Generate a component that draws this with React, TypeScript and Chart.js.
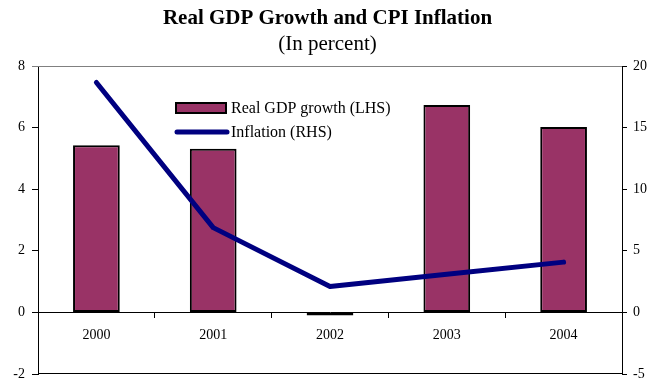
import React, { useEffect, useRef } from "react";
import { Chart, registerables } from "chart.js";

Chart.register(...registerables);

const categories = ["2000", "2001", "2002", "2003", "2004"];
const gdpGrowth = [5.43, 5.31, -0.1, 6.73, 6.02];
const inflation = [18.66, 6.88, 2.1, 3.1, 4.08];
const leftTicks = [-2, 0, 2, 4, 6, 8];
const rightTicks = [-5, 0, 5, 10, 15, 20];

const FONT = "'Liberation Serif', 'Times New Roman', serif";
const BAR_COLOR = "#993366";
const LINE_COLOR = "#000080";

const framePlugin = {
  id: "frame",
  beforeDatasetsDraw(chart: any) {
    const { ctx, chartArea: a } = chart;
    ctx.save();
    ctx.lineWidth = 1;
    ctx.strokeStyle = "#808080";
    ctx.beginPath();
    ctx.moveTo(a.left - 6, Math.round(a.top) + 0.5);
    ctx.lineTo(a.right, Math.round(a.top) + 0.5);
    ctx.stroke();
    ctx.strokeStyle = "#000";
    ctx.beginPath();
    ctx.moveTo(a.left, Math.round(a.bottom) - 0.5);
    ctx.lineTo(a.right, Math.round(a.bottom) - 0.5);
    ctx.stroke();
    ctx.restore();
  },
  afterDraw(chart: any) {
    const { ctx, chartArea: a } = chart;
    const ds = chart.data.datasets;
    const bar = ds.find((d: any) => d.type === "bar");
    const line = ds.find((d: any) => d.type === "line");
    const x0 = a.left + 138;
    const y1 = a.top + 42;
    const y2 = a.top + 66;
    ctx.save();
    ctx.fillStyle = bar.backgroundColor;
    ctx.strokeStyle = "#000";
    ctx.lineWidth = 2;
    ctx.fillRect(x0, y1 - 5, 50, 10);
    ctx.strokeRect(x0, y1 - 5, 50, 10);
    ctx.strokeStyle = line.borderColor;
    ctx.lineWidth = 5;
    ctx.lineCap = "round";
    ctx.beginPath();
    ctx.moveTo(x0 + 1, y2);
    ctx.lineTo(x0 + 51, y2);
    ctx.stroke();
    ctx.fillStyle = "#000";
    ctx.font = `16px ${FONT}`;
    ctx.textBaseline = "middle";
    ctx.textAlign = "left";
    ctx.fillText(bar.label, x0 + 55, y1 + 1);
    ctx.fillText(line.label, x0 + 55, y2 + 1);
    ctx.restore();
  },
};

function fixWidth(w: number) {
  return (scale: any) => {
    scale.width = w;
    scale.paddingTop = 0;
    scale.paddingBottom = 0;
  };
}

export default function App() {
  const ref = useRef<HTMLCanvasElement | null>(null);

  useEffect(() => {
    if (!ref.current) return;
    Chart.defaults.color = "#000";
    const chart = new Chart(ref.current, {
      type: "bar",
      data: {
        labels: categories,
        datasets: [
          {
            type: "line",
            label: "Inflation (RHS)",
            data: inflation,
            yAxisID: "y2",
            borderColor: LINE_COLOR,
            backgroundColor: LINE_COLOR,
            borderWidth: 5,
            pointRadius: 0,
            borderCapStyle: "round",
            borderJoinStyle: "round",
            tension: 0,
            order: 0,
          } as any,
          {
            type: "bar",
            label: "Real GDP growth (LHS)",
            data: gdpGrowth,
            yAxisID: "y",
            backgroundColor: BAR_COLOR,
            borderColor: "#000",
            borderWidth: 2,
            borderSkipped: false,
            categoryPercentage: 0.8,
            barPercentage: 0.5,
            order: 1,
          } as any,
        ],
      },
      options: {
        responsive: false,
        animation: false,
        devicePixelRatio: 1,
        layout: { padding: { top: 0, left: 0, right: 7, bottom: 9 } },
        plugins: {
          legend: { display: false },
          tooltip: { enabled: false },
          title: {
            display: true,
            text: "Real GDP Growth and CPI Inflation",
            color: "#000",
            font: { family: FONT, size: 21, weight: "bold", lineHeight: 1.2 },
            padding: { top: 6, bottom: 1 },
          },
          subtitle: {
            display: true,
            text: "(In percent)",
            color: "#000",
            font: { family: FONT, size: 21, weight: "normal", lineHeight: 1.2 },
            padding: { top: 0, bottom: 8.6 },
          },
        },
        scales: {
          x: {
            type: "category",
            position: { y: 0 } as any,
            offset: true,
            grid: {
              display: true,
              offset: true,
              drawOnChartArea: false,
              drawTicks: true,
              tickLength: 5,
              color: "#000",
            },
            border: { display: true, color: "#000", width: 1 },
            ticks: {
              font: { family: FONT, size: 14 },
              color: "#000",
              padding: 10,
              maxRotation: 0,
            },
            afterFit(scale: any) {
              scale.height = 0;
              scale.paddingLeft = 0;
              scale.paddingRight = 0;
            },
          },
          y: {
            type: "linear",
            position: "left",
            min: leftTicks[0],
            max: leftTicks[leftTicks.length - 1],
            afterBuildTicks(scale: any) {
              scale.ticks = leftTicks.map((v) => ({ value: v }));
            },
            grid: {
              drawOnChartArea: false,
              drawTicks: true,
              tickLength: 6,
              color: "#000",
            },
            border: { display: true, color: "#000", width: 1 },
            ticks: {
              font: { family: FONT, size: 14 },
              color: "#000",
              padding: 7,
            },
            afterFit: fixWidth(38),
          },
          y2: {
            type: "linear",
            position: "right",
            min: rightTicks[0],
            max: rightTicks[rightTicks.length - 1],
            afterBuildTicks(scale: any) {
              scale.ticks = rightTicks.map((v) => ({ value: v }));
            },
            grid: {
              drawOnChartArea: false,
              drawTicks: true,
              tickLength: 5,
              color: "#000",
            },
            border: { display: true, color: "#000", width: 1 },
            ticks: {
              font: { family: FONT, size: 14 },
              color: "#000",
              padding: 6,
            },
            afterFit: fixWidth(33),
          },
        },
      },
      plugins: [framePlugin],
    });
    return () => chart.destroy();
  }, []);

  return (
    <div style={{ position: "absolute", left: 0, top: 0, width: 662, height: 383, background: "#fff" }}>
      <canvas ref={ref} width={662} height={383} style={{ display: "block" }} />
    </div>
  );
}
